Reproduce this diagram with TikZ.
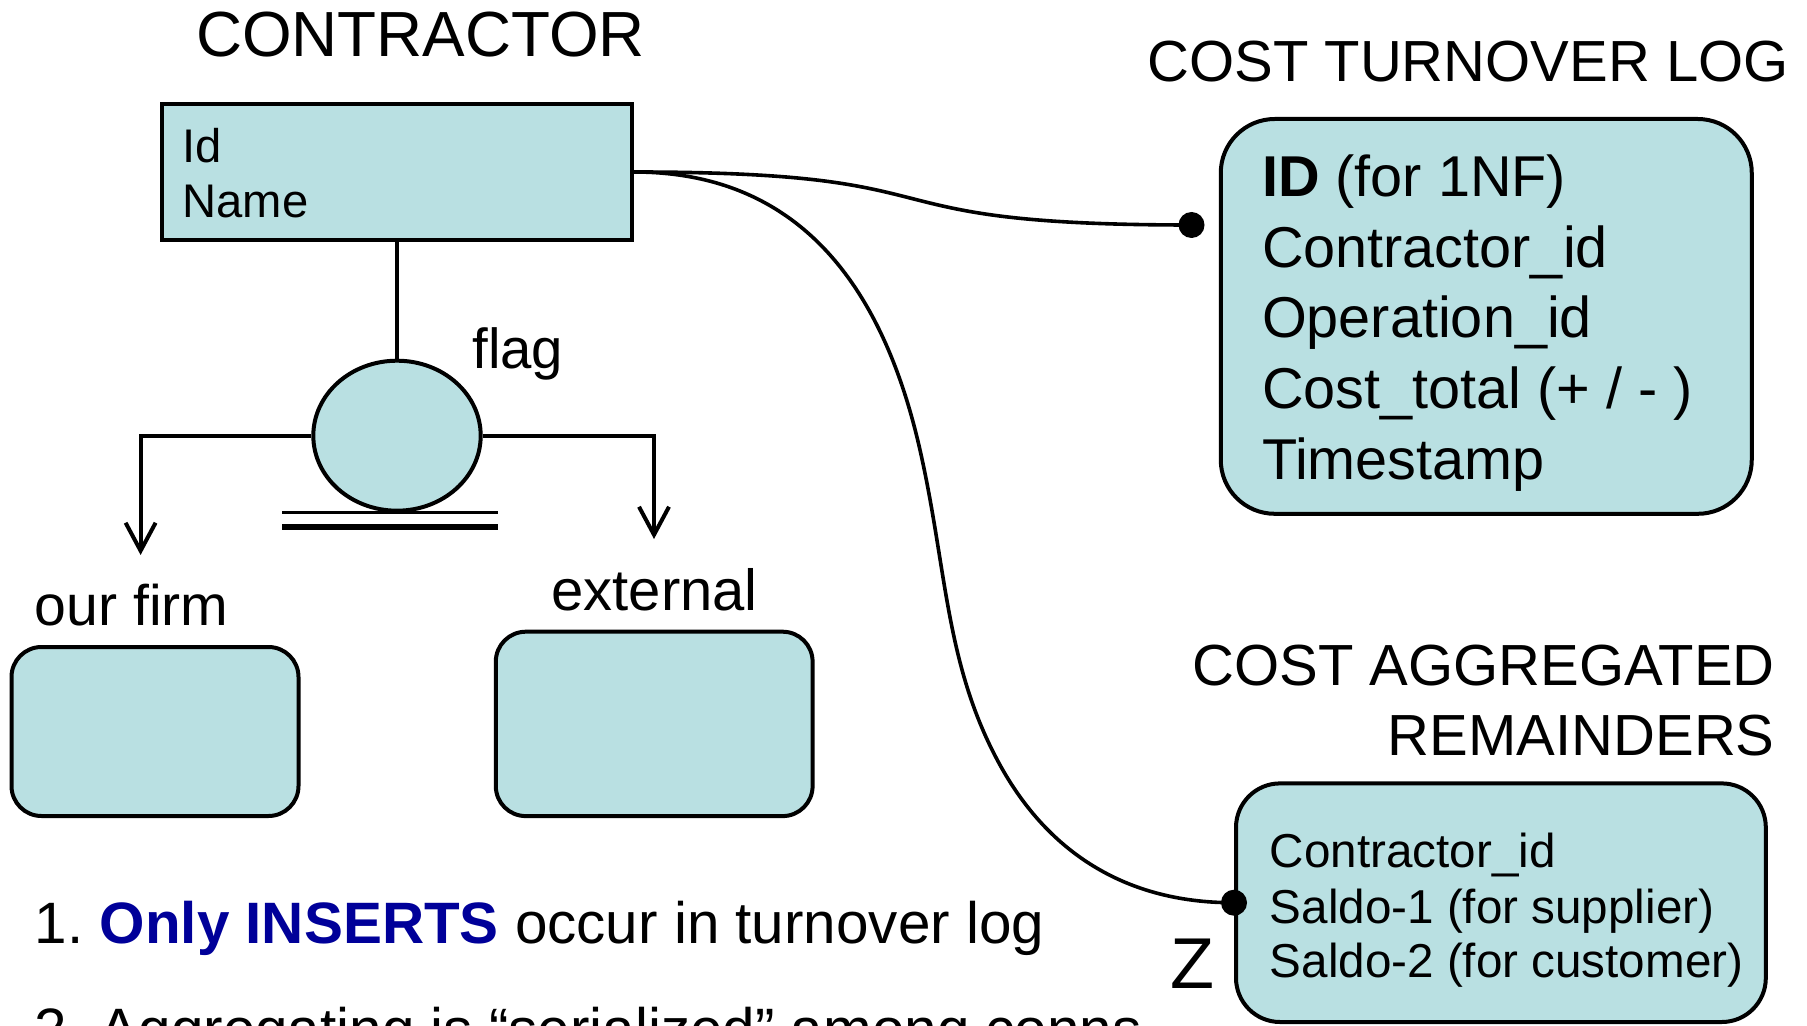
\documentclass[tikz,border=0pt]{standalone}
\usepackage{fontspec}
\setmainfont{Liberation Sans}
\usetikzlibrary{shapes.geometric,arrows.meta}
\definecolor{boxfill}{RGB}{185,224,226}
\definecolor{inkblue}{RGB}{0,0,153}
\frenchspacing
\begin{document}
\begin{tikzpicture}[x=0.5pt,y=-0.5pt,
  entity/.style={draw, fill=boxfill, line width=2.2pt, rectangle, inner sep=0pt},
  rbox/.style={draw, fill=boxfill, line width=2pt, rectangle, inner sep=0pt, rounded corners=#1},
  lbl/.style={inner sep=0pt, anchor=base west},
  dotnode/.style={circle, fill=black, inner sep=0pt, minimum size=13pt},
  link/.style={line width=2pt},
  curve/.style={line width=1.8pt},
  barb/.style={-{Straight Barb[length=14pt,width=15pt]}},
  fA/.style={font=\fontsize{29pt}{35pt}\selectfont},
  fB/.style={font=\fontsize{23.6pt}{28pt}\selectfont}
]
\useasboundingbox (0,0) rectangle (1807,1026);
\clip (0,0) rectangle (1807,1026);

% CONTRACTOR entity
\node[inner sep=0pt, anchor=base, font=\fontsize{31.9pt}{38pt}\selectfont] (tcontr) at (420.5,57) {CONTRACTOR};
\node[entity, minimum width=235pt, minimum height=68pt] (contr) at (397,172) {};
\node[lbl, fB] (cid) at (182,162.5) {Id};
\node[lbl, fB] (cname) at (182,218) {Name};

% flag circle
\node[draw, fill=boxfill, ellipse, line width=2pt, inner sep=0pt, minimum width=83.7pt, minimum height=75pt] (flagc) at (397,435.7) {};
\node[lbl, font=\fontsize{28.2pt}{34pt}\selectfont] (flag) at (472,368) {flag};
\draw[link] (contr.south) -- (flagc.north);
\coordinate (dl1a) at (282,512.5);
\coordinate (dl1b) at (498,512.5);
\coordinate (dl2a) at (282,527);
\coordinate (dl2b) at (498,527);
\draw[line width=1.5pt] (dl1a) -- (dl1b);
\draw[line width=2.9pt] (dl2a) -- (dl2b);

\coordinate (leftend) at (140.6,555);
\coordinate (rightend) at (654,539);
\draw[link, barb] (flagc.west) -| (leftend);
\draw[link, barb] (flagc.east) -| (rightend);

% subtypes
\node[lbl, font=\fontsize{28.6pt}{34pt}\selectfont] (tour) at (34.4,625) {our firm};
\node[lbl, fA] (text) at (551,610) {external};
\node[rbox=15pt, minimum width=143.5pt, minimum height=84.5pt] (ourfirm) at (155,731.5) {};
\node[rbox=15pt, minimum width=158.4pt, minimum height=92.2pt] (external) at (654.2,723.9) {};

% notes
\node[lbl, font=\fontsize{29.2pt}{35pt}\selectfont] (note1) at (34.4,943) {1. \textbf{\color{inkblue}Only INSERTS} occur in turnover log};
\node[lbl, font=\fontsize{29.2pt}{35pt}\selectfont] (note2) at (34.4,1049) {2. Aggregating is “serialized” among conns};

% COST TURNOVER LOG
\node[lbl, fA] (tlog) at (1147,82) {COST TURNOVER LOG};
\node[rbox=27pt, minimum width=265.5pt, minimum height=197.4pt] (tlogbox) at (1486.25,316.4) {};
\node[lbl, font=\fontsize{28.8pt}{34pt}\selectfont] (l1) at (1261.7,196.6) {\textbf{ID} (for 1NF)};
\node[lbl, font=\fontsize{28.8pt}{34pt}\selectfont] (l2) at (1261.7,267.2) {Contractor\_id};
\node[lbl, font=\fontsize{28.8pt}{34pt}\selectfont] (l3) at (1261.7,337.8) {Operation\_id};
\node[lbl, font=\fontsize{28.8pt}{34pt}\selectfont] (l4) at (1261.7,408.4) {Cost\_total (+ / - )};
\node[lbl, font=\fontsize{28.8pt}{34pt}\selectfont] (l5) at (1261.7,479) {Timestamp};
\node[dotnode] (dot1) at (1191.5,225) {};

% COST AGGREGATED REMAINDERS
\node[inner sep=0pt, anchor=base east, font=\fontsize{29pt}{34pt}\selectfont] (tagg1) at (1775,685) {COST AGGREGATED};
\node[inner sep=0pt, anchor=base east, font=\fontsize{29pt}{34pt}\selectfont] (tagg2) at (1775,755) {REMAINDERS};
\node[rbox=22pt, minimum width=264.9pt, minimum height=119.3pt] (agg) at (1500.9,902.7) {};
\node[lbl, font=\fontsize{23.8pt}{28pt}\selectfont] (a1) at (1269.4,867) {Contractor\_id};
\node[lbl, font=\fontsize{23.8pt}{28pt}\selectfont] (a2) at (1269.4,923) {Saldo-1 (for supplier)};
\node[lbl, font=\fontsize{23.8pt}{28pt}\selectfont] (a3) at (1269.4,977) {Saldo-2 (for customer)};
\node[dotnode] (dot2) at (agg.west) {};
\node[inner sep=0pt, anchor=base, font=\fontsize{36pt}{40pt}\selectfont] (zlab) at (1192,988.3) {Z};

% connectors
\coordinate (m1) at (920,450);
\coordinate (m2) at (1000,765);
\draw[curve] (contr.east) .. controls (982,172) and (841,225) .. (dot1.center);
\draw[curve] (contr.east) .. controls (802,172) and (883.7,290) .. (m1)
  .. controls (947.2,570) and (945,665) .. (m2)
  .. controls (1044,845) and (1118,903) .. (dot2.center);
\end{tikzpicture}
\end{document}
